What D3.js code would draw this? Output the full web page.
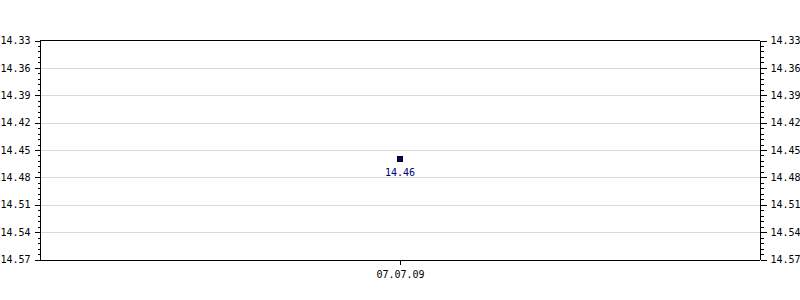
<!DOCTYPE html>
<html><head><meta charset="utf-8">
<script src="https://cdn.jsdelivr.net/npm/d3@7"></script>
<style>body{margin:0;background:#fff}svg{display:block}text{font-family:"DejaVu Sans Mono",monospace;font-size:10px}</style>
</head><body>
<script>
const categories = ["07.07.09"];
const values = [14.46];
const yTicks = [14.33, 14.36, 14.39, 14.42, 14.45, 14.48, 14.51, 14.54, 14.57];
const yDomain = [14.33, 14.57];

const W = 800, H = 300, L = 40, R = 760, T = 40.5, B = 259.5;
const svg = d3.select("body").append("svg").attr("width", W).attr("height", H)
  .attr("shape-rendering", "crispEdges");

const y = d3.scaleLinear().domain(yDomain).range([T, B]);
const x = d3.scalePoint().domain(categories).range([L, R]).padding(0.5);

// minor tick values (4 between each major)
const minor = [];
for (let i = 0; i < yTicks.length - 1; i++) {
  for (let k = 1; k < 5; k++) minor.push(yTicks[i] + (yTicks[i + 1] - yTicks[i]) * k / 5);
}

// gridlines
svg.append("g").selectAll("line").data(yTicks.slice(1, -1)).join("line")
  .attr("x1", L).attr("x2", R).attr("y1", d => Math.round(y(d)) + 0.5).attr("y2", d => Math.round(y(d)) + 0.5)
  .attr("stroke", "#d9d9d9");

// top border
svg.append("line").attr("x1", L).attr("x2", R).attr("y1", y(yDomain[0])).attr("y2", y(yDomain[0])).attr("stroke", "#000");

function yAxis(gen, tx) {
  const g = svg.append("g").attr("transform", `translate(${tx},0)`)
    .call(gen.tickValues(yTicks).tickFormat(d3.format(".2f")).tickSize(6).tickPadding(4));
  g.select(".domain").remove();
  g.selectAll("text").attr("font-family", null).attr("font-size", null).attr("fill", "#000");
  g.append("line").attr("x1", 0).attr("x2", 0).attr("y1", T).attr("y2", B).attr("stroke", "#000");
  return g;
}
yAxis(d3.axisLeft(y), L + 0.5);
yAxis(d3.axisRight(y), R + 0.5);
// minor ticks
svg.append("g").attr("transform", `translate(${L + 0.5},0)`)
  .call(d3.axisLeft(y).tickValues(minor).tickSize(3).tickFormat(""))
  .select(".domain").remove();
svg.append("g").attr("transform", `translate(${R + 0.5},0)`)
  .call(d3.axisRight(y).tickValues(minor).tickSize(3).tickFormat(""))
  .select(".domain").remove();

// x axis
const gx = svg.append("g").attr("transform", `translate(0,${B})`)
  .call(d3.axisBottom(x).tickSize(5).tickPadding(6).tickSizeOuter(0));
gx.select(".domain").attr("d", `M${L},0.5H${R}`);
gx.selectAll("text").attr("font-family", null).attr("font-size", null).attr("fill", "#000");

// points
svg.append("g").selectAll("rect").data(values).join("rect")
  .attr("x", (d, i) => x(categories[i]) - 2.5).attr("y", d => y(d) - 2.5)
  .attr("width", 5).attr("height", 5).attr("fill", "#000080").attr("stroke", "#000").attr("stroke-width", 1);
svg.append("g").selectAll("text").data(values).join("text")
  .attr("x", (d, i) => x(categories[i])).attr("y", d => y(d) + 17)
  .attr("text-anchor", "middle").attr("fill", "#000080")
  .text(d => d3.format(".2f")(d));
</script>
</body></html>
